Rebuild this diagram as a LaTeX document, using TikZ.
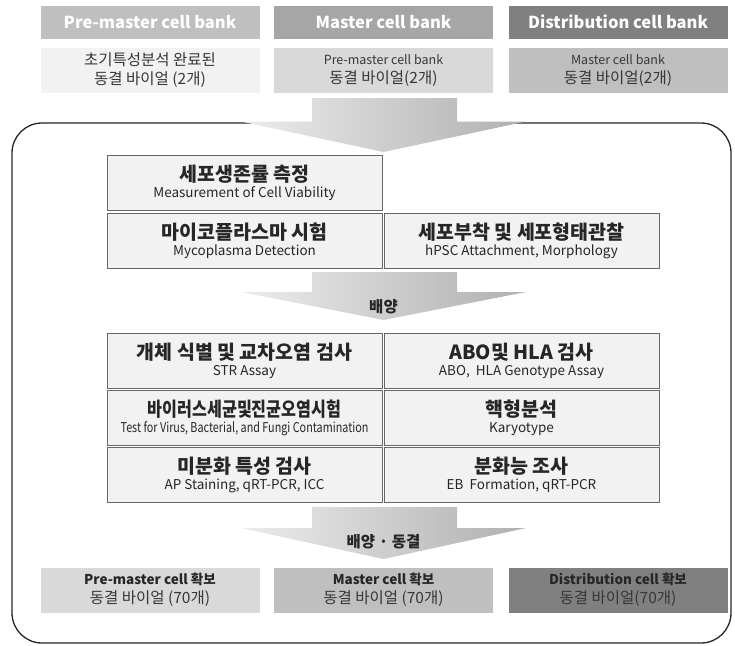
\documentclass[tikz,border=0pt]{standalone}
\usepackage{fontspec}
\setmainfont{Noto Sans CJK KR}
\usepackage{graphicx}
\usetikzlibrary{positioning,calc}
\definecolor{cloud}{RGB}{242,242,242}
\definecolor{fog}{RGB}{217,217,217}
\definecolor{silver}{RGB}{191,191,191}
\definecolor{pewter}{RGB}{166,166,166}
\definecolor{iron}{RGB}{128,128,128}
\definecolor{coal}{RGB}{38,38,38}
\newcommand{\fsmall}{\fontsize{12.5}{15}\selectfont}
\newcommand{\fbig}{\fontsize{15.5}{19}\selectfont}
\newcommand{\ttl}{\fontsize{19.5}{22}\selectfont\bfseries}
\tikzset{
  head/.style={fill=#1,text=white,minimum width=219pt,minimum height=33pt,
    font=\fontsize{16.5}{19}\selectfont\bfseries},
  vial/.style={fill=#1,text=coal!92,minimum width=219pt,minimum height=45pt,
    align=center,inner sep=1pt,font=\fbig},
  test/.style={draw=coal!70,line width=0.9pt,fill=cloud,minimum width=275pt,
    minimum height=55pt,align=center,inner sep=1pt,text=coal,
    font=\fontsize{13.5}{16}\selectfont},
  stage/.style={font=\fontsize{15.5}{19}\selectfont\bfseries,text=coal},
  barrow/.style={left color=gray!15,right color=gray!62},
}
\begin{document}
\begin{tikzpicture}[x=1pt,y=-1pt]
\useasboundingbox (0,0) rectangle (735,645);
\draw[line width=1.3pt,coal,rounded corners=30pt] (12,123) rectangle (731,643);
% block arrows
\foreach \t/\b/\p in {98/121.5/152,272/292/320,507/528/559}
  \shade[barrow] (312,\t) -- (457,\t) -- (457,\b) -- (526,\b) -- (383.5,\p)
    -- (241,\b) -- (312,\b) -- cycle;
\foreach \n/\x/\ch/\cs/\cb/\t/\d/\e/\w in {
  pre/150/silver/cloud/fog/Pre-master cell bank/{초기특성분석 완료된\\동결 바이얼 (2개)}/Pre-master cell/{동결 바이얼 (70개)},
  mst/383.5/pewter/fog/silver/Master cell bank/{\fsmall Pre-master cell bank\\\fbig 동결 바이얼(2개)}/Master cell/{동결 바이얼 (70개)},
  dst/618/iron/silver/iron/Distribution cell bank/{\fsmall Master cell bank\\\fbig 동결 바이얼(2개)}/Distribution cell/{동결 바이얼(70개)}}
{
  \node[head=\ch] (\n-h) at (\x,22) {\t};
  \node[vial=\cs] (\n-s) at (\x,70.5) {\d};
  \node[vial=\cb] (\n-b) at (\x,590) {{\fontsize{13.5}{16}\selectfont\bfseries\color{coal}\e{} 확보}\\\w};
}
\foreach \n/\x/\y/\t/\d in {
  via/244.5/183/세포생존률 측정/Measurement of Cell Viability,
  myc/244.5/240.5/마이코플라스마 시험/Mycoplasma Detection,
  att/521.5/240.5/세포부착 및 세포형태관찰/{hPSC Attachment, Morphology},
  str/244.5/360.5/개체 식별 및 교차오염 검사/STR Assay,
  abo/521.5/360.5/ABO및 HLA 검사/{ABO,~ HLA Genotype Assay},
  vir/244.5/418/{\scalebox{0.83}[1]{바이러스세균및진균오염시험}}/{\scalebox{0.8}[1]{Test for Virus, Bacterial, and Fungi Contamination}},
  kar/521.5/418/핵형분석/Karyotype,
  dif/244.5/474.5/미분화 특성 검사/{AP Staining, qRT-PCR, ICC},
  ebf/521.5/474.5/분화능 조사/{EB~ Formation, qRT-PCR}}
  \node[test] (\n) at (\x,\y) {{\ttl\t}\\\d};
\node[stage] (cult) at (383.5,307) {배양};
\node[stage] (frz) at (383.5,542) {배양 · 동결};
\end{tikzpicture}
\end{document}
